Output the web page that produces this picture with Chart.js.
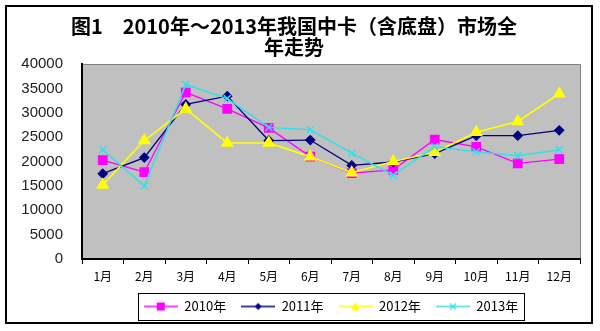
<!DOCTYPE html>
<html>
<head>
<meta charset="utf-8">
<script src="https://cdn.jsdelivr.net/npm/chart.js@4"></script>
<style>
  html, body { margin: 0; padding: 0; background: #fff; }
  #wrap { width: 600px; height: 331px; }
</style>
</head>
<body>
<div id="wrap"><canvas id="chart"></canvas></div>
<script>
const months = ['1月', '2月', '3月', '4月', '5月', '6月', '7月', '8月', '9月', '10月', '11月', '12月'];
const seriesNames = ['2010年', '2011年', '2012年', '2013年'];
const sales2010 = [20300, 17800, 34200, 30800, 26900, 21000, 17600, 18300, 24500, 23000, 19600, 20500];
const sales2011 = [17500, 20800, 31700, 33400, 24300, 24400, 19200, 19900, 21600, 25300, 25300, 26400];
const sales2012 = [15200, 24300, 30800, 23800, 23800, 21000, 17700, 20000, 21900, 26000, 28200, 33900];
const sales2013 = [22400, 15000, 35800, 32900, 27000, 26500, 21700, 17200, 23000, 22000, 21200, 22400];

const cjk = '"Noto Sans CJK SC", "Noto Sans", sans-serif';

// small canvas used as legend symbol: line with marker in the middle
const legendIcon = (color, marker) => {
    const c = document.createElement('canvas');
    c.width = 34; c.height = 12;
    const g = c.getContext('2d');
    g.strokeStyle = color; g.fillStyle = color; g.lineWidth = 1.3;
    g.beginPath(); g.moveTo(0, 6); g.lineTo(34, 6); g.stroke();
    if (marker === 'square') g.fillRect(13, 2, 8, 8);
    if (marker === 'diamond') { g.beginPath(); g.moveTo(17, 2.5); g.lineTo(20.5, 6); g.lineTo(17, 9.5); g.lineTo(13.5, 6); g.closePath(); g.fill(); }
    if (marker === 'triangle') { g.beginPath(); g.moveTo(17, 1.5); g.lineTo(21.5, 10); g.lineTo(12.5, 10); g.closePath(); g.fill(); }
    if (marker === 'cross') { g.beginPath(); g.moveTo(14, 3); g.lineTo(20, 9); g.moveTo(20, 3); g.lineTo(14, 9); g.stroke(); }
    return c;
};
const icons = [
    legendIcon('#FF00FF', 'square'),
    legendIcon('#000080', 'diamond'),
    legendIcon('#FFFF00', 'triangle'),
    legendIcon('#33E0E6', 'cross')
];

const frame = {
    id: 'frame',
    beforeDraw(chart) {
        const { ctx, chartArea: a } = chart;
        ctx.save();
        ctx.fillStyle = '#fff';
        ctx.fillRect(0, 0, chart.width, chart.height);
        ctx.fillStyle = '#C0C0C0';
        ctx.fillRect(a.left, a.top, a.right - a.left, a.bottom - a.top);
        ctx.strokeStyle = '#808080';
        ctx.lineWidth = 1;
        ctx.beginPath();
        ctx.moveTo(a.left, a.top + 0.5); ctx.lineTo(a.right + 0.5, a.top + 0.5); ctx.lineTo(a.right + 0.5, a.bottom);
        ctx.stroke();
        ctx.restore();
    },
    afterDraw(chart) {
        const { ctx } = chart;
        ctx.save();
        ctx.strokeStyle = '#000';
        ctx.lineWidth = 2;
        ctx.strokeRect(6, 6, 586, 317);
        const boxes = chart.legend.legendHitBoxes;
        if (boxes && boxes.length) {
            const l = Math.min(...boxes.map(b => b.left)) - 6;
            const r = Math.max(...boxes.map(b => b.left + b.width)) + 6;
            const t = Math.min(...boxes.map(b => b.top)) - 7;
            const btm = Math.max(...boxes.map(b => b.top + b.height)) + 7;
            ctx.lineWidth = 1;
            ctx.strokeRect(Math.round(l) + 0.5, Math.round(t) + 0.5, Math.round(r - l), Math.round(btm - t));
        }
        ctx.restore();
    }
};

new Chart(document.getElementById('chart'), {
    type: 'line',
    data: {
        labels: months,
        datasets: [
            { label: seriesNames[0], data: sales2010, order: 3, borderColor: '#FF00FF', backgroundColor: '#FF00FF', borderWidth: 1.3, pointStyle: 'rect', pointRadius: 6 },
            { label: seriesNames[1], data: sales2011, order: 2, borderColor: '#000080', backgroundColor: '#000080', borderWidth: 1.3, pointStyle: 'rectRot', pointRadius: 4.5 },
            { label: seriesNames[2], data: sales2012, order: 1, borderColor: '#FFFF00', backgroundColor: '#FFFF00', borderWidth: 1.6, pointStyle: 'triangle', pointRadius: 6 },
            { label: seriesNames[3], data: sales2013, order: 0, borderColor: '#33E0E6', backgroundColor: '#33E0E6', borderWidth: 1.5, pointStyle: 'crossRot', pointRadius: 5, pointBorderWidth: 1.5 }
        ]
    },
    options: {
        responsive: true,
        maintainAspectRatio: false,
        animation: false,
        layout: { padding: { left: 8, right: 20, top: 0, bottom: 8 } },
        elements: { line: { tension: 0 } },
        plugins: {
            title: {
                display: true,
                text: ['图1　2010年～2013年我国中卡（含底盘）市场全', '年走势'],
                color: '#000',
                font: { family: cjk, size: 20, weight: 'bold', lineHeight: 1.05 },
                padding: { top: 15.5, bottom: 6.5 }
            },
            legend: {
                position: 'bottom',
                fullSize: false,
                labels: {
                    usePointStyle: true,
                    pointStyleWidth: 34,
                    padding: 15,
                    color: '#000',
                    font: { family: cjk, size: 13 },
                    sort: (a, b) => a.datasetIndex - b.datasetIndex,
                    generateLabels: chart => Chart.defaults.plugins.legend.labels.generateLabels(chart)
                        .map(item => ({ ...item, pointStyle: icons[item.datasetIndex] }))
                }
            },
            tooltip: { enabled: false }
        },
        scales: {
            x: {
                offset: true,
                afterFit: scale => { scale.height = 26; },
                border: { color: '#000', width: 2 },
                grid: { offset: true, drawOnChartArea: false, drawTicks: true, tickLength: 5, color: '#000' },
                ticks: { color: '#000', font: { family: cjk, size: 12 }, padding: 5, maxRotation: 0, autoSkip: false }
            },
            y: {
                min: 0,
                max: 40000,
                afterFit: scale => { scale.width = 74; },
                border: { color: '#000', width: 2 },
                grid: { display: false, drawTicks: false },
                ticks: { stepSize: 5000, color: '#222', padding: 19, font: { family: '"Liberation Sans", Arial, sans-serif', size: 15 }, callback: v => String(v) }
            }
        }
    },
    plugins: [frame]
});
</script>
</body>
</html>
